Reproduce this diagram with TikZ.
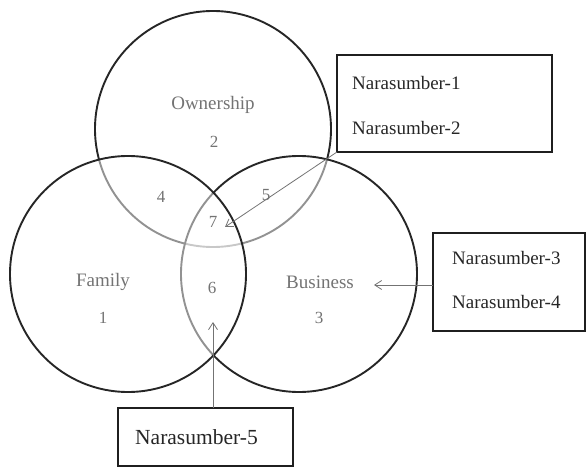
\documentclass[tikz,border=0pt]{standalone}
\usepackage{fontspec}
\setmainfont{Liberation Serif}
\usetikzlibrary{arrows.meta}
\begin{document}
\begin{tikzpicture}[x=1pt,y=-1pt,
  setc/.style={circle, draw=black!85, line width=1.9pt, fill=white, fill opacity=0.5, minimum size=236pt, inner sep=0pt, outer sep=0pt},
  box/.style={draw=black!88, line width=1.5pt, inner sep=0pt, outer sep=0pt},
  lab/.style={text=black!55, font=\rmfamily\fontsize{19}{22}\selectfont, inner sep=0pt},
  num/.style={text=black!55, font=\rmfamily\fontsize{17}{20}\selectfont, inner sep=0pt},
  ntext/.style={text=black!85, font=\rmfamily\fontsize{19}{22}\selectfont, inner sep=0pt, anchor=west},
  arr/.style={draw=black!55, line width=0.8pt, -{Straight Barb[length=7pt,width=9pt]}}]
\useasboundingbox (0,0) rectangle (587,468);
% circles
\node[setc] (own) at (213,129) {};
\node[setc] (bus) at (299,274) {};
\node[setc] (fam) at (128,274) {};
% labels
\node[lab] (lown) at (213,105) {Ownership};
\node[num] (l2) at (214,142) {2};
\node[num] (l4) at (161,197) {4};
\node[num] (l5) at (266,195) {5};
\node[num] (l7) at (213,222) {7};
\node[lab] (lfam) at (103,282) {Family};
\node[num] (l1) at (103,318) {1};
\node[num] (l6) at (212,288) {6};
\node[lab] (lbus) at (320,282) {Business};
\node[num] (l3) at (319,318) {3};
% boxes
\node[box, minimum width=215pt, minimum height=97pt] (n12) at (444.5,103.5) {};
\node[ntext] (t1) at (352,83) {Narasumber-1};
\node[ntext] (t2) at (352,128) {Narasumber-2};
\node[box, minimum width=152pt, minimum height=98pt] (n34) at (509,282) {};
\node[ntext] (t3) at (452,258) {Narasumber-3};
\node[ntext] (t4) at (452,302) {Narasumber-4};
\node[box, minimum width=175pt, minimum height=58pt] (n5) at (205.5,437) {};
\node[ntext, font=\rmfamily\fontsize{21.5}{24}\selectfont] (t5) at (135,437) {Narasumber-5};
% connectors
\coordinate (tip7) at (225,227);
\coordinate (tipbus) at (374,285);
\coordinate (tip6) at (213,322);
\draw[arr] (n12.south west) -- (tip7);
\draw[arr] ([yshift=-3pt]n34.west) -- (tipbus);
\draw[arr] ([xshift=7.5pt]n5.north) -- (tip6);
\end{tikzpicture}
\end{document}
